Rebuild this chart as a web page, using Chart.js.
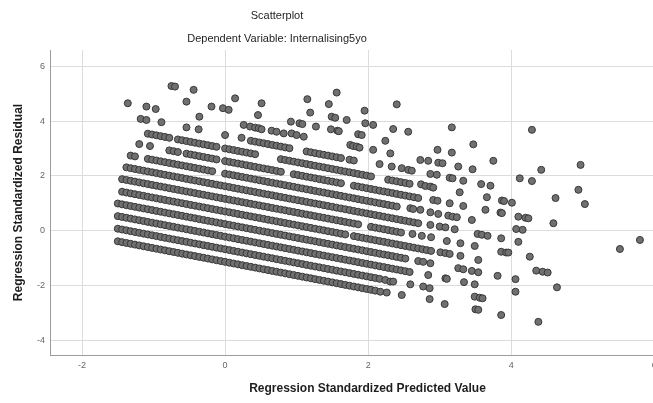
<!DOCTYPE html>
<html>
<head>
<meta charset="utf-8">
<script src="https://cdn.jsdelivr.net/npm/chart.js@4.4.1/dist/chart.umd.min.js"></script>
<style>
  html, body { margin: 0; padding: 0; background: #fff; overflow: hidden; width: 653px; height: 403px; }
  #wrap { position: relative; width: 700px; height: 403px; }
</style>
</head>
<body>
<div id="wrap"><canvas id="c" width="700" height="403"></canvas></div>
<script>
// Text
const chartTitle = 'Scatterplot';
const chartSubtitle = 'Dependent Variable: Internalising5yo';
const xTitle = 'Regression Standardized Predicted Value';
const yTitle = 'Regression Standardized Residual';

// Tick values
const xTicks = [-2, 0, 2, 4, 6];
const yTicks = [-4, -2, 0, 2, 4, 6];

// Cases grouped by observed score (each score forms one diagonal band): [predicted, residual]
const band0 = [[-1.50,-0.39],[-1.44,-0.42],[-1.38,-0.45],[-1.32,-0.48],[-1.26,-0.51],[-1.20,-0.54],[-1.14,-0.57],[-1.08,-0.60],[-1.02,-0.63],[-0.96,-0.66],[-0.90,-0.69],[-0.84,-0.72],[-0.78,-0.75],[-0.72,-0.78],[-0.66,-0.81],[-0.60,-0.84],[-0.54,-0.87],[-0.48,-0.90],[-0.42,-0.93],[-0.36,-0.96],[-0.30,-0.99],[-0.24,-1.02],[-0.18,-1.05],[-0.12,-1.08],[-0.06,-1.11],[0.00,-1.14],[0.06,-1.17],[0.12,-1.20],[0.18,-1.23],[0.24,-1.26],[0.30,-1.29],[0.36,-1.32],[0.42,-1.35],[0.48,-1.38],[0.54,-1.41],[0.60,-1.44],[0.66,-1.47],[0.72,-1.50],[0.78,-1.53],[0.84,-1.56],[0.90,-1.59],[0.96,-1.62],[1.02,-1.65],[1.08,-1.68],[1.14,-1.71],[1.20,-1.74],[1.26,-1.77],[1.32,-1.80],[1.38,-1.83],[1.44,-1.86],[1.50,-1.89],[1.56,-1.92],[1.62,-1.95],[1.68,-1.98],[1.74,-2.01],[1.80,-2.04],[1.86,-2.07],[1.92,-2.10],[1.98,-2.13],[2.04,-2.16],[2.10,-2.19]];
const band1 = [[-1.50,0.07],[-1.44,0.04],[-1.38,0.01],[-1.32,-0.02],[-1.26,-0.05],[-1.20,-0.08],[-1.14,-0.11],[-1.08,-0.14],[-1.02,-0.17],[-0.96,-0.20],[-0.90,-0.23],[-0.84,-0.26],[-0.78,-0.29],[-0.72,-0.32],[-0.66,-0.35],[-0.60,-0.38],[-0.54,-0.41],[-0.48,-0.44],[-0.42,-0.47],[-0.36,-0.50],[-0.30,-0.53],[-0.24,-0.56],[-0.18,-0.59],[-0.12,-0.62],[-0.06,-0.65],[0.00,-0.68],[0.06,-0.71],[0.12,-0.74],[0.18,-0.77],[0.24,-0.80],[0.30,-0.83],[0.36,-0.86],[0.42,-0.89],[0.48,-0.92],[0.54,-0.95],[0.60,-0.98],[0.66,-1.01],[0.72,-1.04],[0.78,-1.07],[0.84,-1.10],[0.90,-1.13],[0.96,-1.16],[1.02,-1.19],[1.08,-1.22],[1.14,-1.25],[1.20,-1.28],[1.26,-1.31],[1.32,-1.34],[1.38,-1.37],[1.44,-1.40],[1.50,-1.43],[1.56,-1.46],[1.62,-1.49],[1.68,-1.52],[1.74,-1.55],[1.80,-1.58],[1.86,-1.61],[1.92,-1.64],[1.98,-1.67],[2.04,-1.70],[2.10,-1.73],[2.16,-1.76]];
const band2 = [[-1.50,0.53],[-1.44,0.50],[-1.38,0.47],[-1.32,0.44],[-1.26,0.41],[-1.20,0.38],[-1.14,0.35],[-1.08,0.32],[-1.02,0.29],[-0.96,0.26],[-0.90,0.23],[-0.84,0.20],[-0.78,0.17],[-0.72,0.14],[-0.66,0.11],[-0.60,0.08],[-0.54,0.05],[-0.48,0.02],[-0.42,-0.01],[-0.36,-0.04],[-0.30,-0.07],[-0.24,-0.10],[-0.18,-0.13],[-0.12,-0.16],[-0.06,-0.19],[0.00,-0.22],[0.06,-0.25],[0.12,-0.28],[0.18,-0.31],[0.24,-0.34],[0.30,-0.37],[0.36,-0.40],[0.42,-0.43],[0.48,-0.46],[0.54,-0.49],[0.60,-0.52],[0.66,-0.55],[0.72,-0.58],[0.78,-0.61],[0.84,-0.64],[0.90,-0.67],[0.96,-0.70],[1.02,-0.73],[1.08,-0.76],[1.14,-0.79],[1.20,-0.82],[1.26,-0.85],[1.32,-0.88],[1.38,-0.91],[1.44,-0.94],[1.50,-0.97],[1.56,-1.00],[1.62,-1.03],[1.68,-1.06],[1.74,-1.09],[1.80,-1.12],[1.86,-1.15],[1.92,-1.18],[1.98,-1.21],[2.04,-1.24],[2.10,-1.27],[2.16,-1.30],[2.22,-1.33],[2.28,-1.36],[2.34,-1.39],[2.40,-1.42],[2.46,-1.45],[2.52,-1.48],[2.58,-1.51]];
const band3 = [[-1.50,0.99],[-1.44,0.96],[-1.38,0.93],[-1.32,0.90],[-1.26,0.87],[-1.20,0.84],[-1.14,0.81],[-1.08,0.78],[-1.02,0.75],[-0.96,0.72],[-0.90,0.69],[-0.84,0.66],[-0.78,0.63],[-0.72,0.60],[-0.66,0.57],[-0.60,0.54],[-0.54,0.51],[-0.48,0.48],[-0.42,0.45],[-0.36,0.42],[-0.30,0.39],[-0.24,0.36],[-0.18,0.33],[-0.12,0.30],[-0.06,0.27],[0.00,0.24],[0.06,0.21],[0.12,0.18],[0.18,0.15],[0.24,0.12],[0.30,0.09],[0.36,0.06],[0.42,0.03],[0.48,0.00],[0.54,-0.03],[0.60,-0.06],[0.66,-0.09],[0.72,-0.12],[0.78,-0.15],[0.84,-0.18],[0.90,-0.21],[0.96,-0.24],[1.02,-0.27],[1.08,-0.30],[1.14,-0.33],[1.20,-0.36],[1.26,-0.39],[1.32,-0.42],[1.38,-0.45],[1.44,-0.48],[1.50,-0.51],[1.56,-0.54],[1.62,-0.57],[1.68,-0.60],[1.74,-0.63],[1.80,-0.66],[1.86,-0.69],[1.92,-0.72],[1.98,-0.75],[2.04,-0.78],[2.10,-0.81],[2.16,-0.84],[2.22,-0.87],[2.28,-0.90],[2.34,-0.93],[2.40,-0.96],[2.46,-0.99],[2.52,-1.02]];
const band4 = [[-1.44,1.42],[-1.38,1.39],[-1.32,1.36],[-1.26,1.33],[-1.20,1.30],[-1.14,1.27],[-1.08,1.24],[-1.02,1.21],[-0.96,1.18],[-0.90,1.15],[-0.84,1.12],[-0.78,1.09],[-0.72,1.06],[-0.66,1.03],[-0.60,1.00],[-0.54,0.97],[-0.48,0.94],[-0.42,0.91],[-0.36,0.88],[-0.30,0.85],[-0.24,0.82],[-0.18,0.79],[-0.12,0.76],[-0.06,0.73],[0.00,0.70],[0.06,0.67],[0.12,0.64],[0.18,0.61],[0.24,0.58],[0.30,0.55],[0.36,0.52],[0.42,0.49],[0.48,0.46],[0.54,0.43],[0.60,0.40],[0.66,0.37],[0.72,0.34],[0.78,0.31],[0.84,0.28],[0.90,0.25],[0.96,0.22],[1.02,0.19],[1.08,0.16],[1.14,0.13],[1.20,0.10],[1.26,0.07],[1.32,0.04],[1.38,0.01],[1.44,-0.02],[1.50,-0.05],[1.56,-0.08],[1.62,-0.11],[1.68,-0.14],[1.80,-0.20],[1.86,-0.23],[1.92,-0.26],[1.98,-0.29],[2.04,-0.32],[2.10,-0.35],[2.16,-0.38],[2.22,-0.41],[2.28,-0.44],[2.34,-0.47],[2.40,-0.50],[2.46,-0.53],[2.52,-0.56],[2.58,-0.59],[2.64,-0.62],[2.70,-0.65],[2.76,-0.68],[2.82,-0.71],[2.88,-0.74]];
const band5 = [[-1.44,1.88],[-1.38,1.85],[-1.32,1.82],[-1.26,1.79],[-1.20,1.76],[-1.14,1.73],[-1.08,1.70],[-1.02,1.67],[-0.96,1.64],[-0.90,1.61],[-0.84,1.58],[-0.78,1.55],[-0.72,1.52],[-0.66,1.49],[-0.60,1.46],[-0.54,1.43],[-0.48,1.40],[-0.42,1.37],[-0.36,1.34],[-0.30,1.31],[-0.24,1.28],[-0.18,1.25],[-0.12,1.22],[-0.06,1.19],[0.00,1.16],[0.06,1.13],[0.12,1.10],[0.18,1.07],[0.24,1.04],[0.30,1.01],[0.36,0.98],[0.42,0.95],[0.48,0.92],[0.54,0.89],[0.60,0.86],[0.66,0.83],[0.72,0.80],[0.78,0.77],[0.84,0.74],[0.90,0.71],[0.96,0.68],[1.02,0.65],[1.08,0.62],[1.14,0.59],[1.20,0.56],[1.26,0.53],[1.32,0.50],[1.38,0.47],[1.44,0.44],[1.50,0.41],[1.56,0.38],[1.62,0.35],[1.68,0.32],[1.74,0.29],[1.80,0.26],[1.86,0.23],[2.04,0.14],[2.10,0.11],[2.16,0.08],[2.22,0.05],[2.28,0.02],[2.34,-0.01],[2.40,-0.04],[2.46,-0.07]];
const band6 = [[-1.38,2.31],[-1.32,2.28],[-1.26,2.25],[-1.20,2.22],[-1.14,2.19],[-1.08,2.16],[-1.02,2.13],[-0.96,2.10],[-0.90,2.07],[-0.84,2.04],[-0.78,2.01],[-0.72,1.98],[-0.66,1.95],[-0.60,1.92],[-0.54,1.89],[-0.48,1.86],[-0.42,1.83],[-0.36,1.80],[-0.30,1.77],[-0.24,1.74],[-0.18,1.71],[-0.12,1.68],[-0.06,1.65],[0.00,1.62],[0.06,1.59],[0.12,1.56],[0.18,1.53],[0.24,1.50],[0.30,1.47],[0.36,1.44],[0.42,1.41],[0.48,1.38],[0.54,1.35],[0.60,1.32],[0.66,1.29],[0.72,1.26],[0.78,1.23],[0.84,1.20],[0.90,1.17],[0.96,1.14],[1.02,1.11],[1.08,1.08],[1.14,1.05],[1.20,1.02],[1.26,0.99],[1.32,0.96],[1.38,0.93],[1.44,0.90],[1.50,0.87],[1.56,0.84],[1.62,0.81],[1.68,0.78],[1.74,0.75],[1.80,0.72],[1.86,0.69],[1.92,0.66],[1.98,0.63],[2.04,0.60],[2.10,0.57],[2.16,0.54],[2.22,0.51],[2.28,0.48],[2.34,0.45],[2.40,0.42],[2.46,0.39],[2.52,0.36],[2.58,0.33],[2.64,0.30],[2.70,0.27]];
const band7 = [[-1.32,2.74],[-1.26,2.71],[-1.08,2.62],[-1.02,2.59],[-0.96,2.56],[-0.90,2.53],[-0.84,2.50],[-0.78,2.47],[-0.72,2.44],[-0.66,2.41],[-0.60,2.38],[-0.54,2.35],[-0.48,2.32],[-0.42,2.29],[-0.36,2.26],[-0.30,2.23],[-0.24,2.20],[-0.18,2.17],[0.00,2.08],[0.06,2.05],[0.12,2.02],[0.18,1.99],[0.24,1.96],[0.30,1.93],[0.36,1.90],[0.42,1.87],[0.48,1.84],[0.54,1.81],[0.60,1.78],[0.66,1.75],[0.72,1.72],[0.78,1.69],[0.84,1.66],[0.90,1.63],[0.96,1.60],[1.02,1.57],[1.08,1.54],[1.14,1.51],[1.20,1.48],[1.26,1.45],[1.32,1.42],[1.38,1.39],[1.44,1.36],[1.50,1.33],[1.56,1.30],[1.62,1.27],[1.68,1.24],[1.74,1.21],[1.80,1.18],[1.86,1.15],[1.92,1.12],[1.98,1.09],[2.04,1.06],[2.10,1.03],[2.16,1.00],[2.22,0.97],[2.28,0.94],[2.34,0.91],[2.40,0.88]];
const band8 = [[-0.78,2.93],[-0.72,2.90],[-0.66,2.87],[-0.54,2.81],[-0.48,2.78],[-0.42,2.75],[-0.36,2.72],[-0.30,2.69],[-0.24,2.66],[-0.18,2.63],[-0.12,2.60],[0.00,2.54],[0.06,2.51],[0.12,2.48],[0.18,2.45],[0.24,2.42],[0.30,2.39],[0.36,2.36],[0.42,2.33],[0.48,2.30],[0.54,2.27],[0.60,2.24],[0.66,2.21],[0.72,2.18],[0.78,2.15],[0.96,2.06],[1.02,2.03],[1.08,2.00],[1.14,1.97],[1.20,1.94],[1.26,1.91],[1.32,1.88],[1.38,1.85],[1.44,1.82],[1.50,1.79],[1.56,1.76],[1.62,1.73],[1.80,1.64],[1.86,1.61],[1.92,1.58],[1.98,1.55],[2.04,1.52],[2.10,1.49],[2.16,1.46],[2.22,1.43],[2.28,1.40],[2.34,1.37],[2.40,1.34],[2.46,1.31],[2.52,1.28],[2.58,1.25],[2.64,1.22],[2.70,1.19]];
const band9 = [[-1.08,3.54],[-1.02,3.51],[-0.96,3.48],[-0.90,3.45],[-0.84,3.42],[-0.78,3.39],[-0.66,3.33],[-0.60,3.30],[-0.54,3.27],[-0.48,3.24],[-0.42,3.21],[-0.36,3.18],[-0.30,3.15],[-0.24,3.12],[-0.18,3.09],[-0.12,3.06],[0.00,3.00],[0.06,2.97],[0.12,2.94],[0.18,2.91],[0.24,2.88],[0.30,2.85],[0.36,2.82],[0.42,2.79],[0.78,2.61],[0.84,2.58],[0.90,2.55],[0.96,2.52],[1.02,2.49],[1.08,2.46],[1.14,2.43],[1.20,2.40],[1.26,2.37],[1.32,2.34],[1.38,2.31],[1.44,2.28],[1.50,2.25],[1.56,2.22],[1.62,2.19],[1.68,2.16],[1.74,2.13],[1.80,2.10],[1.86,2.07],[1.92,2.04],[1.98,2.01],[2.04,1.98],[2.28,1.86],[2.34,1.83],[2.40,1.80],[2.46,1.77],[2.52,1.74],[2.58,1.71]];
const band10 = [[0.36,3.28],[0.42,3.25],[0.48,3.22],[0.54,3.19],[0.60,3.16],[0.66,3.13],[0.72,3.10],[0.78,3.07],[0.84,3.04],[0.90,3.01],[1.14,2.89],[1.20,2.86],[1.26,2.83],[1.32,2.80],[1.38,2.77],[1.44,2.74],[1.50,2.71],[1.56,2.68],[1.62,2.65],[1.74,2.59],[1.80,2.56]];

// Isolated cases above the bands and beyond the band ends
const scattered = [
  [-1.36,4.65],[-1.10,4.53],[-0.97,4.44],[-0.75,5.28],[-0.70,5.26],[-0.44,5.14],[-0.54,4.71],[-0.19,4.53],[-0.03,4.47],[0.05,4.41],[0.14,4.83],
  [-1.18,4.08],[-1.10,4.04],[-0.89,3.96],[-0.36,4.16],[-0.54,3.77],[-0.37,3.70],[0.00,3.49],[0.26,3.86],[0.23,3.39],[-1.20,3.16],[-1.05,3.09],
  [0.51,4.65],[1.15,4.80],[1.56,5.04],[1.45,4.62],[2.40,4.61],[0.46,4.22],[1.19,4.31],[1.95,4.38],[1.49,4.16],[1.54,4.12],[1.70,4.04],
  [0.92,3.98],[1.04,3.92],[1.08,3.89],[1.27,3.80],[1.96,3.92],[2.07,3.86],[1.48,3.70],[1.57,3.65],[1.59,3.63],
  [0.35,3.80],[0.42,3.76],[0.47,3.74],[0.51,3.70],[0.65,3.65],[0.72,3.61],[0.82,3.55],[0.93,3.55],[1.00,3.49],[1.10,3.43],
  [1.86,3.52],[1.91,3.49],[1.75,3.13],[1.79,3.09],[1.84,3.07],[1.88,3.03],[2.07,2.95],[2.24,3.28],[2.35,3.71],[2.16,2.43],
  [2.56,3.61],[2.31,2.82],[2.97,2.95],[2.73,2.58],[2.84,2.55],[2.98,2.48],[3.04,2.46],[2.33,2.34],[2.47,2.28],[2.56,2.22],[2.61,2.19],
  [2.87,2.07],[2.96,2.04],[2.74,1.69],[2.80,1.63],[2.87,1.61],[2.91,1.57],[2.91,1.12],[2.97,1.09],[2.59,0.82],[2.63,0.79],[2.73,0.76],
  [2.87,0.67],[2.98,0.61],[2.87,0.21],[3.00,0.15],[2.62,-0.12],[2.75,-0.19],[2.88,-0.24],[2.70,-1.11],[2.77,-1.14],[2.87,-1.19],[2.84,-1.62],
  [2.24,-1.80],[2.31,-1.86],[2.35,-1.86],[2.59,-1.96],[2.77,-2.04],[2.86,-2.10],[2.17,-2.23],[2.26,-2.26],[2.47,-2.35],[2.86,-2.50],
  [3.17,3.77],[4.29,3.68],[3.47,3.15],[3.17,2.85],[3.75,2.55],[3.26,2.34],[3.46,2.24],[4.97,2.40],[4.42,2.22],[3.14,1.93],[3.18,1.91],
  [3.33,1.82],[3.58,1.70],[3.71,1.64],[4.12,1.91],[4.29,1.81],[4.94,1.49],[3.28,1.40],[3.66,1.22],[3.87,1.10],[3.90,1.08],[4.01,1.02],
  [4.62,1.19],[5.03,0.97],[3.14,1.00],[3.33,0.90],[3.64,0.76],[3.12,0.55],[3.18,0.51],[3.24,0.49],[3.45,0.39],[3.85,0.66],[3.87,0.64],
  [4.10,0.51],[4.20,0.47],[4.24,0.45],[4.59,0.27],[3.08,0.12],[3.21,0.05],[3.53,-0.12],[3.59,-0.15],[3.67,-0.19],[4.07,0.06],[4.16,0.03],
  [3.10,-0.38],[3.29,-0.46],[3.49,-0.56],[3.86,-0.28],[4.10,-0.41],[5.80,-0.34],[5.52,-0.67],[3.01,-0.79],[3.08,-0.82],[3.14,-0.85],
  [3.29,-0.92],[3.54,-1.07],[3.86,-0.77],[3.93,-0.80],[3.96,-0.80],[4.26,-0.95],[3.26,-1.37],[3.33,-1.41],[3.45,-1.47],[3.54,-1.52],
  [3.81,-1.65],[4.06,-1.77],[4.35,-1.46],[4.44,-1.50],[4.51,-1.53],[3.08,-1.74],[3.10,-1.76],[3.34,-1.88],[3.49,-1.96],[4.06,-2.23],
  [4.64,-2.07],[3.49,-2.41],[3.56,-2.45],[3.60,-2.47],[3.07,-2.68],[3.50,-2.87],[3.54,-2.89],[3.86,-3.08],[4.38,-3.33]
];

const bands = [band0, band1, band2, band3, band4, band5, band6, band7, band8, band9, band10];
const cases = bands.flat().concat(scattered).map(([x, y]) => ({ x, y }));

const FAMILY = '"Liberation Sans", Arial, Helvetica, sans-serif';

// Chart heading, centred over the plot
const headingPlugin = {
  id: 'heading',
  afterDraw(chart) {
    const ctx = chart.ctx;
    ctx.save();
    ctx.fillStyle = '#1e1e1e';
    ctx.textAlign = 'center';
    ctx.textBaseline = 'middle';
    ctx.font = '11px ' + FAMILY;
    ctx.fillText(chartTitle, 277, 16);
    ctx.fillText(chartSubtitle, 277, 38.5);
    ctx.restore();
  }
};

new Chart(document.getElementById('c'), {
  type: 'scatter',
  data: {
    datasets: [{
      data: cases,
      pointRadius: 3.5,
      pointHoverRadius: 3.5,
      backgroundColor: '#707070',
      borderColor: '#383838',
      borderWidth: 1
    }]
  },
  options: {
    responsive: false,
    animation: false,
    events: [],
    layout: { padding: { top: 50, right: 15, left: 0, bottom: 0 } },
    plugins: { legend: { display: false }, title: { display: false }, tooltip: { enabled: false } },
    scales: {
      x: {
        type: 'linear',
        min: -2.448,
        max: 6.43,
        afterBuildTicks: s => { s.ticks = xTicks.map(v => ({ value: v })); },
        afterFit: s => { s.height = 48; },
        grid: { color: '#dcdcdc', lineWidth: 1, drawTicks: false },
        border: { color: '#9c9c9c', width: 1 },
        ticks: { color: '#666', font: { size: 9, family: FAMILY }, padding: 5, maxRotation: 0, autoSkip: false },
        title: { display: true, text: xTitle, color: '#1e1e1e', font: { size: 12, weight: 'bold', family: FAMILY }, padding: { top: 0, bottom: 7 } }
      },
      y: {
        type: 'linear',
        min: -4.54,
        max: 6.595,
        afterBuildTicks: s => { s.ticks = yTicks.map(v => ({ value: v })); },
        afterFit: s => { s.width = 50; },
        grid: { color: '#dcdcdc', lineWidth: 1, drawTicks: false },
        border: { color: '#9c9c9c', width: 1 },
        ticks: { color: '#666', font: { size: 9, family: FAMILY }, padding: 5, autoSkip: false },
        title: { display: true, text: yTitle, color: '#1e1e1e', font: { size: 12, weight: 'bold', family: FAMILY }, padding: { top: 11, bottom: 0 } }
      }
    }
  },
  plugins: [headingPlugin]
});
</script>
</body>
</html>
